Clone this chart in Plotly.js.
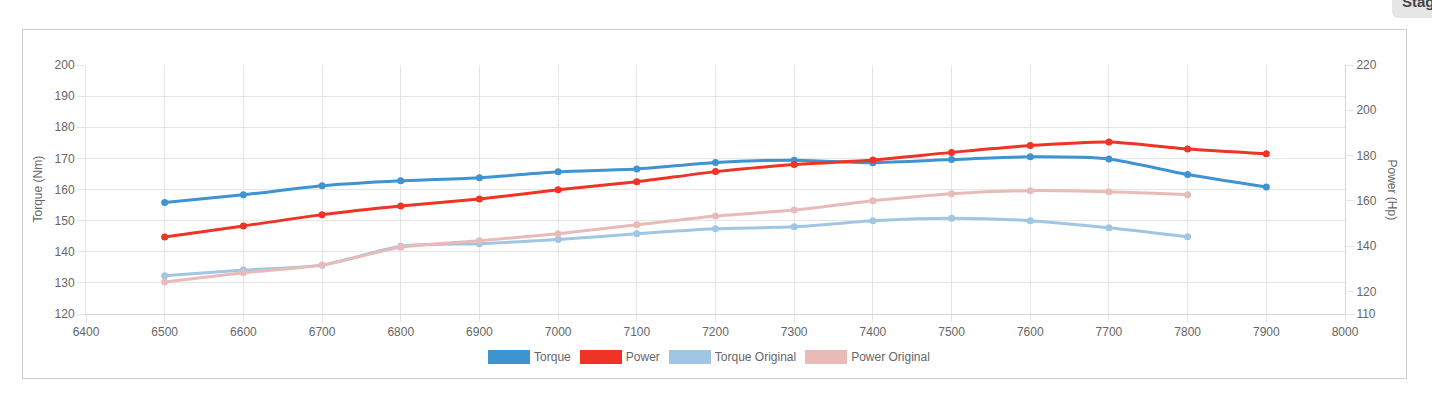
<!DOCTYPE html>
<html>
<head>
<meta charset="utf-8">
<script src="https://cdn.plot.ly/plotly-3.0.1.min.js"></script>
<style>
  html, body { margin:0; padding:0; background:#fff; width:1432px; height:396px; overflow:hidden; font-family:"Liberation Sans", Arial, Helvetica, sans-serif; }
  #frame { position:absolute; left:22px; top:29px; width:1383px; height:348px; border:1px solid #cfcfcf; box-sizing:content-box; }
  #chart { position:absolute; left:0; top:0; width:1432px; height:396px; }
  #stage { position:absolute; left:1392px; top:-13px; width:60px; height:31px; background:#e6e6e6; border-radius:6px; color:#444; font-size:15px; font-weight:bold; padding:6px 0 0 10px; box-sizing:border-box; }
  #legend { position:absolute; top:350px; left:-7px; width:1432px; display:flex; justify-content:center; font-size:12px; color:#666; }
  .item { display:flex; align-items:center; margin:0 4.5px; }
  .box { width:40px; height:12px; margin-right:4px; box-sizing:content-box; }
</style>
</head>
<body>
<div id="frame"></div>
<div id="stage">Stage</div>
<div id="chart"></div>
<div id="legend"></div>
<script>
// ---- data ----
const rpm = [6500, 6600, 6700, 6800, 6900, 7000, 7100, 7200, 7300, 7400, 7500, 7600, 7700, 7800, 7900];
const torque = [155.8, 158.3, 161.2, 162.8, 163.8, 165.7, 166.6, 168.7, 169.4, 168.6, 169.6, 170.5, 169.8, 164.8, 160.8];
const power = [144.0, 148.9, 153.9, 157.7, 160.8, 164.9, 168.4, 172.9, 176.0, 178.0, 181.4, 184.4, 186.0, 182.9, 180.8];
const rpmOriginal = [6500, 6600, 6700, 6800, 6900, 7000, 7100, 7200, 7300, 7400, 7500, 7600, 7700, 7800];
const torqueOriginal = [132.3, 134.1, 135.7, 141.8, 142.6, 143.9, 145.8, 147.4, 148.0, 150.0, 150.8, 150.0, 147.7, 144.8];
const powerOriginal = [124.1, 128.2, 131.6, 139.5, 142.4, 145.5, 149.4, 153.3, 155.9, 160.0, 163.1, 164.5, 164.0, 162.7];

const seriesNames = ["Torque", "Power", "Torque Original", "Power Original"];
const seriesColors = ["#3e93d1", "#ef3325", "#a1c6e4", "#e8bbb8"];

const xTicks = [6400, 6500, 6600, 6700, 6800, 6900, 7000, 7100, 7200, 7300, 7400, 7500, 7600, 7700, 7800, 7900, 8000];
const yTicks = [120, 130, 140, 150, 160, 170, 180, 190, 200];
const y2Ticks = [110, 120, 140, 160, 180, 200, 220];

const leftTitle = "Torque (Nm)";
const rightTitle = "Power (Hp)";

// ---- traces ----
function mk(x, y, i, axis) {
  return {
    x: x, y: y, name: seriesNames[i], yaxis: axis, type: "scatter", mode: "lines+markers",
    line: { color: seriesColors[i], width: 3, shape: "spline", smoothing: 0.6 },
    marker: { color: seriesColors[i], size: 7 },
    hoverinfo: "skip", showlegend: false
  };
}
const traces = [
  mk(rpmOriginal, powerOriginal, 3, "y2"),
  mk(rpmOriginal, torqueOriginal, 2, "y"),
  mk(rpm, power, 1, "y2"),
  mk(rpm, torque, 0, "y")
];

const font = { family: '"Liberation Sans", Arial, Helvetica, sans-serif', size: 12, color: "#666" };
const grid = "#e6e6e6";

const layout = {
  width: 1432, height: 396,
  margin: { l: 86, r: 87, t: 65, b: 82 },
  paper_bgcolor: "rgba(0,0,0,0)", plot_bgcolor: "rgba(0,0,0,0)",
  font: font, showlegend: false,
  xaxis: {
    range: [6400, 8000], tickvals: xTicks, ticktext: xTicks.map(String),
    showgrid: true, gridcolor: grid, gridwidth: 1, zeroline: false,
    showline: true, linecolor: "#d4d4d4", linewidth: 1,
    ticks: "outside", ticklen: 7, tickcolor: grid, tickfont: font
  },
  yaxis: {
    range: [120, 200], tickvals: yTicks, ticktext: yTicks.map(String),
    showgrid: true, gridcolor: grid, gridwidth: 1, zeroline: false,
    showline: true, linecolor: grid, linewidth: 1,
    ticks: "outside", ticklen: 8, tickcolor: grid, tickfont: font
  },
  yaxis2: {
    range: [110, 220], tickvals: y2Ticks, ticktext: y2Ticks.map(String),
    overlaying: "y", side: "right", showgrid: false, zeroline: false,
    showline: true, linecolor: "#d4d4d4", linewidth: 1,
    ticks: "outside", ticklen: 8, tickcolor: grid, tickfont: font
  },
  annotations: [
    { text: leftTitle, xref: "paper", yref: "paper", x: 0, y: 0.5, xshift: -49, textangle: -90,
      showarrow: false, font: font, xanchor: "center", yanchor: "middle" },
    { text: rightTitle, xref: "paper", yref: "paper", x: 1, y: 0.5, xshift: 47, textangle: 90,
      showarrow: false, font: font, xanchor: "center", yanchor: "middle" }
  ]
};

Plotly.newPlot("chart", traces, layout, { staticPlot: true, displayModeBar: false });

// ---- legend ----
const leg = document.getElementById("legend");
seriesNames.forEach((n, i) => {
  const it = document.createElement("div"); it.className = "item";
  const b = document.createElement("div"); b.className = "box";
  b.style.background = seriesColors[i]; b.style.border = "1.5px solid " + seriesColors[i];
  const t = document.createElement("span"); t.textContent = n;
  it.appendChild(b); it.appendChild(t); leg.appendChild(it);
});
</script>
</body>
</html>
